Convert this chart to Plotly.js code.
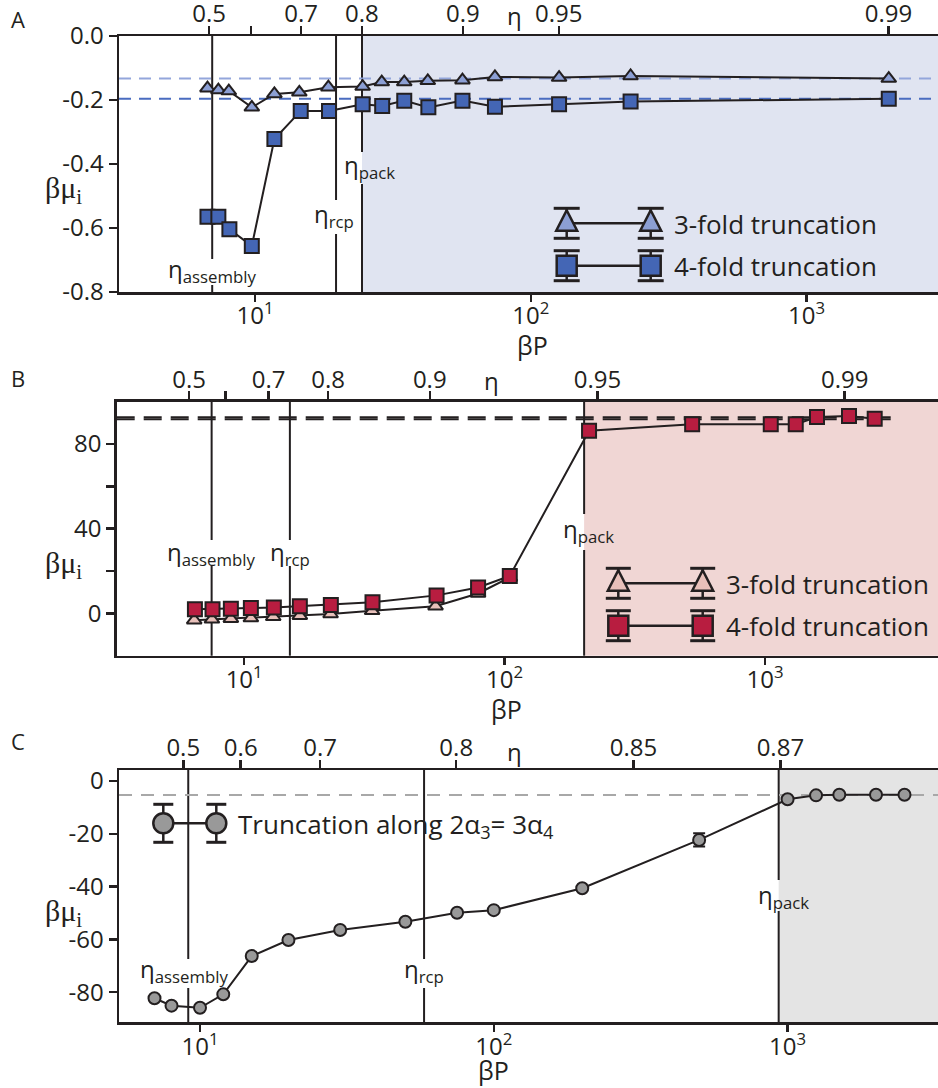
<!DOCTYPE html>
<html><head><meta charset="utf-8">
<script src="https://cdn.plot.ly/plotly-3.0.1.min.js"></script>
<style>html,body{margin:0;padding:0;background:#fff}#plot{width:938px;height:1088px}</style>
</head><body><div id="plot"></div>
<script>
// ---------- Panel A (blue) ----------
const aTriX = [6.72,7.36,8.03,9.73,11.75,14.47,18.44,24.55,28.8,34.75,42.3,56.5,74.1,126.6,230,1986];
const aTriY = [-0.163,-0.169,-0.172,-0.223,-0.181,-0.176,-0.160,-0.158,-0.144,-0.144,-0.140,-0.138,-0.128,-0.130,-0.125,-0.133];
const aSqX  = [6.72,7.36,8.07,9.73,11.75,14.64,18.54,24.55,28.9,34.75,42.5,56.5,74.1,126.6,230,1986];
const aSqY  = [-0.565,-0.565,-0.604,-0.656,-0.322,-0.234,-0.234,-0.213,-0.219,-0.202,-0.223,-0.202,-0.221,-0.213,-0.205,-0.196];
const aRefLines = [-0.133,-0.196];           // dashed reference levels (3-fold, 4-fold)
const aEtaTickPos = [6.81,9.67,14.68,24.4,56.7,126.3,1982];
const aEtaTickText = ['0.5','','0.7','0.8','0.9','0.95','0.99'];
const aMarks = {assembly:6.99, rcp:19.66, pack:24.42};
const aRange = [3.21,2996];

// ---------- Panel B (red) ----------
const bTriX = [6.43,7.52,8.89,10.61,12.93,16.36,21.47,31.0,54.3,79.1,104.7];
const bTriY = [-3.2,-2.8,-2.5,-2.2,-1.6,-1.1,-0.3,1.2,3.4,9.4,17.0];
const bSqX  = [6.47,7.56,8.89,10.61,13.0,16.36,21.52,31.1,54.8,79.1,104.7,211,525,1052,1312,1583,2101,2637];
const bSqY  = [1.9,2.0,2.2,2.5,2.8,3.4,4.0,5.3,8.5,12.2,17.7,86.3,89.4,89.4,89.4,92.8,93.2,92.0];
const bRefLines = [92.7,91.7];
const bRefEnd = 3200;
const bEtaTickPos = [6.15,8.48,12.41,21.01,51.6,227.3,2023];
const bEtaTickText = ['0.5','','0.7','0.8','0.9','0.95','0.99'];
const bMarks = {assembly:7.50, rcp:14.98, pack:202};
const bRange = [3.24,4615];

// ---------- Panel C (grey) ----------
const cX   = [7,8,10,12,15,20,30,50,75,100,200,500,1000,1250,1500,2000,2500];
const cY   = [-82.3,-85.1,-85.9,-80.8,-66.3,-60.2,-56.4,-53.3,-49.9,-48.9,-40.6,-22.3,-6.9,-5.4,-5.2,-5.2,-5.2];
const cErr = [0,0,0,0,0,0,0,0,0,0,0.8,2.5,0.6,0,0,1.0,0];
const cRefLines = [-5.3];
const cEtaTickPos = [8.77,13.76,25.63,74.5,299,945];
const cEtaTickText = ['0.5','0.6','0.7','0.8','0.85','0.87'];
const cMarks = {assembly:9.12, rcp:57.9, pack:932.6};
const cRange = [5.30,3251];

// ---------- helpers ----------
const W=938, H=1088;
const px = x => x/W, py = y => 1 - y/H;
const INK = '#231f20';
const FONT = 'Open Sans';
const SERIF = 'Liberation Serif';
const tf = {family:FONT, size:24, color:INK};

function bottomAxis(left, range){
  return {domain:[px(left),1], type:'log', range:[Math.log10(range[0]),Math.log10(range[1])],
    tickvals:[10,100,1000], ticktext:['10<sup>1</sup>','10<sup>2</sup>','10<sup>3</sup>'],
    ticks:'outside', ticklen:7, tickwidth:2.5, tickcolor:INK, showline:true, linewidth:2.5, linecolor:INK,
    showgrid:false, zeroline:false, tickfont:tf, ticklabelstandoff:-6, fixedrange:true};
}
function topAxis(over, anchor, range, pos, txt){
  return {overlaying:over, side:'top', anchor:anchor, type:'log', range:[Math.log10(range[0]),Math.log10(range[1])],
    tickvals:pos, ticktext:txt, ticks:'outside', ticklen:8, tickwidth:2.5, tickcolor:INK,
    showline:true, linewidth:2.5, linecolor:INK, showgrid:false, zeroline:false, tickfont:tf,
    ticklabelstandoff:-6, fixedrange:true};
}
function leftAxis(anchor, top, bot, range, vals, txt){
  return {domain:[py(bot),py(top)], anchor:anchor, range:range, tickvals:vals, ticktext:txt,
    ticks:'outside', ticklen:8, tickwidth:2.5, tickcolor:INK, showline:true, linewidth:2.5, linecolor:INK,
    showgrid:false, zeroline:false, tickfont:tf, fixedrange:true};
}

const traces = [];
function series(xs, ys, xa, ya, sym, size, fill, err){
  const t = {x:xs, y:ys, xaxis:xa, yaxis:ya, type:'scatter', mode:'lines+markers', showlegend:false,
    line:{color:INK, width:2}, marker:{symbol:sym, size:size, color:fill, line:{color:INK, width:2}},
    hoverinfo:'skip'};
  if(err) t.error_y = {type:'data', array:err, visible:true, color:INK, thickness:2, width:6};
  traces.push(t);
}
series(aTriX,aTriY,'x','y','triangle-up',13,'#8c9fd4');
series(aSqX,aSqY,'x','y','square',14,'#4466b5');
series(bTriX,bTriY,'x2','y2','triangle-up',13,'#e8c0ba');
series(bSqX,bSqY,'x2','y2','square',14,'#b81d40');
series(cX,cY,'x3','y3','circle',12,'#999999',cErr);
// carrier traces (no visible marks) so the top packing-fraction axes get drawn
[['x4','y',aEtaTickPos],['x5','y2',bEtaTickPos],['x6','y3',cEtaTickPos]].forEach(([xa,ya,pos])=>{
  traces.push({x:pos, y:pos.map(()=>null), xaxis:xa, yaxis:ya, type:'scatter', mode:'markers',
    marker:{opacity:0}, showlegend:false, hoverinfo:'skip'});
});

const shapes = [];
const annotations = [];

function panelDecor(xa, ya, marks, range, shade, top, bot, gaps){
  shapes.push({type:'rect', xref:xa, yref:ya+' domain', x0:marks.pack, x1:range[1], y0:0, y1:1,
    fillcolor:shade, line:{width:0}, layer:'below'});
  ['assembly','rcp','pack'].forEach(k=>{
    const g = gaps[k];
    shapes.push({type:'line', xref:xa, yref:'paper', x0:marks[k], x1:marks[k], y0:py(top), y1:py(g[0]),
      line:{color:INK,width:2}, layer:'below'});
    shapes.push({type:'line', xref:xa, yref:'paper', x0:marks[k], x1:marks[k], y0:py(g[1]), y1:py(bot),
      line:{color:INK,width:2}, layer:'below'});
  });
}
panelDecor('x','y',aMarks,aRange,'#e0e4f1',36,292,{assembly:[259,285],rcp:[200,234],pack:[152,184]});
panelDecor('x2','y2',bMarks,bRange,'#f0d6d4',401.7,655.7,{assembly:[540,566],rcp:[540,566],pack:[514,550]});
panelDecor('x3','y3',cMarks,cRange,'#e4e4e4',770,1022.3,{assembly:[959,988],rcp:[959,988],pack:[880,911]});

// dashed reference levels
shapes.push({type:'line', xref:'x domain', yref:'y', x0:0, x1:1, y0:aRefLines[0], y1:aRefLines[0],
  line:{color:'#93a6db', width:2, dash:'12px,8px'}, layer:'below'});
shapes.push({type:'line', xref:'x domain', yref:'y', x0:0, x1:1, y0:aRefLines[1], y1:aRefLines[1],
  line:{color:'#4a6cc0', width:2, dash:'12px,8px'}, layer:'below'});
bRefLines.forEach(v=>shapes.push({type:'line', xref:'x2', yref:'y2', x0:bRange[0], x1:bRefEnd, y0:v, y1:v,
  line:{color:INK, width:2, dash:'18px,9px'}, layer:'below'}));
shapes.push({type:'line', xref:'x3 domain', yref:'y3', x0:0, x1:1, y0:cRefLines[0], y1:cRefLines[0],
  line:{color:'#a8a8a8', width:2, dash:'13px,9px'}, layer:'below'});

// legend glyphs (pixel-positioned, paper refs)
function lp(sh){ sh.xref='paper'; sh.yref='paper'; sh.layer='above'; shapes.push(sh); }
function legendRow(x1, x2, y, sym, fill, capH, capW, half){
  lp({type:'line', x0:px(x1), x1:px(x2), y0:py(y), y1:py(y), line:{color:INK,width:2.5}});
  [x1,x2].forEach(x=>{
    lp({type:'line', x0:px(x), x1:px(x), y0:py(y-capH), y1:py(y+capH), line:{color:INK,width:2.5}});
    lp({type:'line', x0:px(x-capW), x1:px(x+capW), y0:py(y-capH), y1:py(y-capH), line:{color:INK,width:3}});
    lp({type:'line', x0:px(x-capW), x1:px(x+capW), y0:py(y+capH), y1:py(y+capH), line:{color:INK,width:3}});
    if(sym==='tri'){
      lp({type:'path', path:`M${px(x)},${py(y-half*1.3)} L${px(x+half*1.05)},${py(y+half*0.75)} L${px(x-half*1.05)},${py(y+half*0.75)} Z`,
        fillcolor:fill, line:{color:INK,width:2.5}});
    } else if(sym==='sq'){
      lp({type:'rect', x0:px(x-half), x1:px(x+half), y0:py(y+half), y1:py(y-half), fillcolor:fill, line:{color:INK,width:2.5}});
    } else {
      lp({type:'circle', x0:px(x-half), x1:px(x+half), y0:py(y+half), y1:py(y-half), fillcolor:fill, line:{color:INK,width:2.5}});
    }
  });
}
legendRow(566.7,650.7,223.3,'tri','#8c9fd4',15,13,10);
legendRow(566.7,650.7,265.7,'sq','#4466b5',15,13,10);
legendRow(618.3,702.7,583.3,'tri','#e8c0ba',15,12.5,10);
legendRow(618.3,702.7,625.7,'sq','#b81d40',15,12.5,10);
legendRow(163.3,216.3,823.3,'circ','#999999',19,10,10);

// text
function txt(text, x, y, opts){
  annotations.push(Object.assign({text:text, x:x, y:y, xref:'paper', yref:'paper', showarrow:false,
    xanchor:'center', yanchor:'middle', font:{family:FONT, size:24, color:INK}}, opts||{}));
}
// panel letters
txt('A', px(18), py(19), {font:{family:FONT,size:22,color:INK}});
txt('B', px(18), py(378), {font:{family:FONT,size:22,color:INK}});
txt('C', px(18), py(741), {font:{family:FONT,size:22,color:INK}});
// y titles
[190,565,913].forEach(y=>txt('βμ<sub>i</sub>', px(63), py(y), {font:{family:SERIF,size:30,color:INK}}));
// x titles
txt('βP', px(532), py(345), {font:{family:FONT,size:25,color:INK}});
txt('βP', px(506), py(709), {font:{family:FONT,size:25,color:INK}});
txt('βP', px(493), py(1070), {font:{family:FONT,size:25,color:INK}});
// top eta axis labels
txt('η', Math.log10(87.5), py(16), {xref:'x'});
txt('η', Math.log10(89), py(380), {xref:'x2'});
txt('η', Math.log10(118), py(751), {xref:'x3'});
// packing-fraction markers
function mk(label, xa, v, y, shift){ txt('η<sub>'+label+'</sub>', Math.log10(v), py(y), {xref:xa, xshift:shift||0}); }
mk('assembly','x',aMarks.assembly,270,0);
mk('rcp','x',aMarks.rcp,215,-2);
mk('pack','x',aMarks.pack,166,7);
mk('assembly','x2',bMarks.assembly,553,0);
mk('rcp','x2',bMarks.rcp,553,0);
mk('pack','x2',bMarks.pack,530,4);
mk('assembly','x3',cMarks.assembly,970,-4);
mk('rcp','x3',cMarks.rcp,970,0);
mk('pack','x3',cMarks.pack,896,5);
// legend labels
const lf = {font:{family:FONT,size:26,color:INK}, xanchor:'left'};
txt('3-fold truncation', px(672), py(224), lf);
txt('4-fold truncation', px(672), py(266), lf);
txt('3-fold truncation', px(724), py(584), lf);
txt('4-fold truncation', px(724), py(626), lf);
txt('Truncation along 2α<sub>3</sub>= 3α<sub>4</sub>', px(236), py(825), lf);

const layout = {
  width:W, height:H, margin:{l:0,r:0,t:0,b:0}, paper_bgcolor:'#fff', plot_bgcolor:'rgba(0,0,0,0)',
  showlegend:false, font:{family:FONT, color:INK},
  xaxis: Object.assign(bottomAxis(119, aRange), {anchor:'y'}),
  xaxis2: Object.assign(bottomAxis(116.7, bRange), {anchor:'y2'}),
  xaxis3: Object.assign(bottomAxis(119, cRange), {anchor:'y3'}),
  xaxis4: topAxis('x','y',aRange,aEtaTickPos,aEtaTickText),
  xaxis5: topAxis('x2','y2',bRange,bEtaTickPos,bEtaTickText),
  xaxis6: topAxis('x3','y3',cRange,cEtaTickPos,cEtaTickText),
  yaxis: leftAxis('x',36,292,[-0.8,0],[-0.8,-0.6,-0.4,-0.2,0],['-0.8','-0.6','-0.4','-0.2','0.0']),
  yaxis2: leftAxis('x2',401.7,655.7,[-20,100],[0,20,40,60,80],['0','','40','','80']),
  yaxis3: leftAxis('x3',770,1022.3,[-91.4,4.2],[-80,-60,-40,-20,0],['-80','-60','-40','-20','0']),
  shapes:shapes, annotations:annotations
};
Plotly.newPlot('plot', traces, layout, {staticPlot:true, displayModeBar:false});
</script>
</body></html>
